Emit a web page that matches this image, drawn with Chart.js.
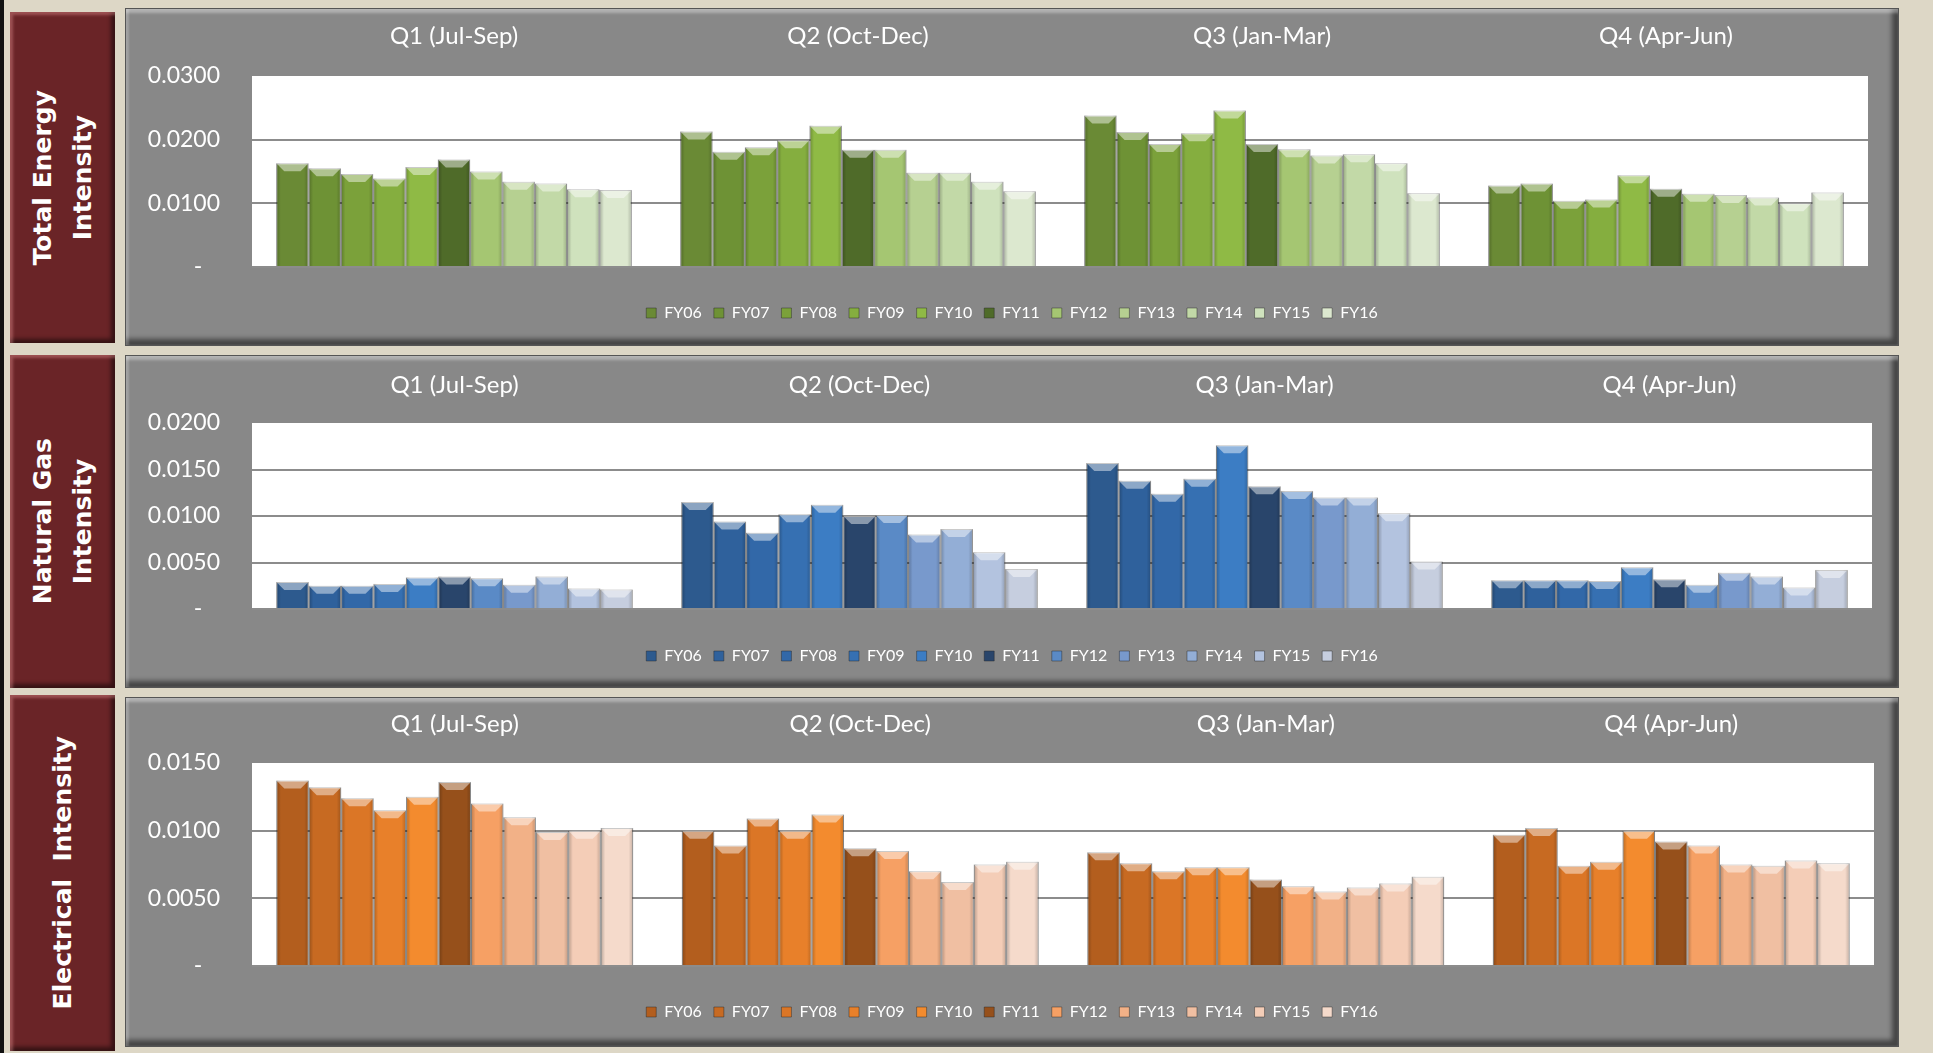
<!DOCTYPE html>
<html>
<head>
<meta charset="utf-8">
<script src="https://cdn.jsdelivr.net/npm/chart.js@4.4.1/dist/chart.umd.min.js"></script>
<style>
  html, body { margin: 0; padding: 0; }
  body { width: 1933px; height: 1053px; background: #ddd7c6; position: relative; overflow: hidden; border-left: 4px solid #111; box-sizing: border-box; }
  .side { position: absolute; left: 6px; width: 105px; background: #6a2427;
    box-shadow: inset 3px 3px 3px rgba(255,170,170,0.35), inset -4px -4px 4px rgba(0,0,0,0.5);
    display: flex; align-items: center; justify-content: center; }
  .side span { writing-mode: vertical-rl; transform: rotate(180deg); color: #fff; font: bold 25px "DejaVu Sans"; text-align: center; line-height: 40px; white-space: pre; }
  .panel { position: absolute; left: 121px; width: 1774px; background: #888;
    box-shadow: inset 0 5px 3px -1px rgba(255,255,255,0.35), inset 3px 0 2px rgba(255,255,255,0.2), inset -6px -6px 5px rgba(0,0,0,0.5);
    border: 1px solid #555; box-sizing: border-box; }
  .panel canvas { position: absolute; left: 0; top: 0; }
</style>
</head>
<body>
<div class="side" style="top:12px;height:331px"><span>Total Energy
Intensity</span></div>
<div class="side" style="top:355px;height:333px"><span>Natural Gas
Intensity</span></div>
<div class="side" style="top:695px;height:356px"><span>Electrical  Intensity</span></div>

<div class="panel" id="p1" style="top:8px;height:338px"><canvas id="c1"></canvas></div>
<div class="panel" id="p2" style="top:355px;height:333px"><canvas id="c2"></canvas></div>
<div class="panel" id="p3" style="top:697px;height:350px"><canvas id="c3"></canvas></div>

<script>
const quarters = ['Q1 (Jul-Sep)', 'Q2 (Oct-Dec)', 'Q3 (Jan-Mar)', 'Q4 (Apr-Jun)'];
const years = ['FY06', 'FY07', 'FY08', 'FY09', 'FY10', 'FY11', 'FY12', 'FY13', 'FY14', 'FY15', 'FY16'];

// one row per fiscal year, values for Q1..Q4
const totalEnergy = [
  [0.0163, 0.0213, 0.0238, 0.0128],
  [0.0155, 0.0181, 0.0212, 0.0131],
  [0.0146, 0.0188, 0.0193, 0.0104],
  [0.0139, 0.0199, 0.0210, 0.0106],
  [0.0157, 0.0222, 0.0246, 0.0144],
  [0.0169, 0.0184, 0.0193, 0.0123],
  [0.0150, 0.0184, 0.0185, 0.0115],
  [0.0134, 0.0148, 0.0175, 0.0113],
  [0.0131, 0.0148, 0.0177, 0.0109],
  [0.0122, 0.0134, 0.0163, 0.0100],
  [0.0121, 0.0119, 0.0116, 0.0117]
];
const naturalGas = [
  [0.0029, 0.0115, 0.0157, 0.0031],
  [0.0025, 0.0094, 0.0138, 0.0031],
  [0.0025, 0.0082, 0.0124, 0.0031],
  [0.0027, 0.0102, 0.0140, 0.0030],
  [0.0034, 0.0112, 0.0176, 0.0045],
  [0.0035, 0.0100, 0.0132, 0.0032],
  [0.0033, 0.0101, 0.0127, 0.0026],
  [0.0026, 0.0080, 0.0120, 0.0039],
  [0.0035, 0.0086, 0.0120, 0.0035],
  [0.0022, 0.0061, 0.0103, 0.0023],
  [0.0021, 0.0043, 0.0051, 0.0042]
];
const electrical = [
  [0.0137, 0.0100, 0.0084, 0.0097],
  [0.0132, 0.0089, 0.0076, 0.0102],
  [0.0124, 0.0109, 0.0070, 0.0074],
  [0.0115, 0.0100, 0.0073, 0.0077],
  [0.0125, 0.0112, 0.0073, 0.0100],
  [0.0136, 0.0087, 0.0064, 0.0092],
  [0.0120, 0.0085, 0.0059, 0.0089],
  [0.0110, 0.0070, 0.0055, 0.0075],
  [0.0099, 0.0062, 0.0058, 0.0074],
  [0.0100, 0.0075, 0.0061, 0.0078],
  [0.0102, 0.0077, 0.0066, 0.0076]
];

const greens = ['#6a8a35', '#6e9235', '#7ba13a', '#85ae3f', '#8fba45', '#4f6b29', '#a5c672', '#b6d091', '#c2d9a7', '#cfe2bd', '#dce8cf'];
const blues = ['#2d5a8e', '#2f619c', '#3268a8', '#3670b2', '#3c7dc4', '#29456b', '#5a8ac6', '#7899cc', '#93aed6', '#b3c3df', '#c6cedf'];
const oranges = ['#b35e1e', '#c76a22', '#db7626', '#e8802a', '#f38b2e', '#96501b', '#f6a064', '#f2b187', '#f0bfa2', '#f4cdb7', '#f5dacb'];

Chart.defaults.font.family = 'Lato';
Chart.defaults.color = '#fff';

// white plot area + bevelled bars
const bevel = {
  id: 'bevel',
  beforeDraw(chart) {
    const a = chart.chartArea, c = chart.ctx;
    c.save();
    c.fillStyle = '#fff';
    c.fillRect(a.left, a.top, a.right - a.left, a.bottom - a.top);
    c.restore();
  },
  afterDatasetsDraw(chart) {
    const c = chart.ctx;
    c.save();
    chart.data.datasets.forEach((ds, i) => {
      chart.getDatasetMeta(i).data.forEach(bar => {
        const p = bar.getProps(['x', 'y', 'base', 'width'], true);
        const l = p.x - p.width / 2, r = p.x + p.width / 2, h = p.base - p.y;
        const b = Math.min(8, h / 2);
        const g = c.createLinearGradient(l, 0, r, 0);
        g.addColorStop(0, 'rgba(0,0,0,0.25)');
        g.addColorStop(0.14, 'rgba(0,0,0,0)');
        g.addColorStop(0.86, 'rgba(0,0,0,0)');
        g.addColorStop(1, 'rgba(0,0,0,0.2)');
        c.fillStyle = g;
        c.fillRect(l, p.y, p.width, h);
        c.beginPath();
        c.moveTo(l, p.y); c.lineTo(r, p.y); c.lineTo(r - b, p.y + b); c.lineTo(l + b, p.y + b);
        c.closePath();
        c.fillStyle = 'rgba(255,255,255,0.45)';
        c.fill();
      });
    });
    c.restore();
  }
};

function makeChart(id, rows, colors, max, step, d) {
  return new Chart(document.getElementById(id), {
    type: 'bar',
    data: {
      labels: quarters,
      datasets: years.map((y, i) => ({
        label: y,
        data: rows[i],
        backgroundColor: colors[i],
        borderColor: 'rgba(40,40,40,0.45)',
        borderWidth: 1,
        categoryPercentage: 0.88,
        barPercentage: 1.0
      }))
    },
    options: {
      responsive: true,
      maintainAspectRatio: false,
      animation: false,
      layout: { padding: { left: 10, right: 10, top: 0, bottom: d.bottom } },
      plugins: {
        tooltip: { enabled: false },
        legend: {
          position: 'bottom',
          labels: { boxWidth: 10, boxHeight: 10, padding: 12, color: '#fff', font: { size: 16 } }
        }
      },
      scales: {
        x: {
          position: 'top',
          grid: { display: false },
          border: { display: false },
          ticks: { color: '#fff', font: { size: 24 }, padding: d.tpad, maxRotation: 0 },
          afterFit: s => { s.height = d.top; }
        },
        x2: {
          type: 'category',
          position: 'bottom',
          grid: { display: false },
          border: { display: false },
          ticks: { display: false },
          afterFit: s => { s.height = d.gap; }
        },
        y: {
          min: 0,
          max: max,
          grid: {
            color: c => (c.tick && c.tick.value >= max - 1e-9) ? 'rgba(0,0,0,0)' : '#8c8c8c',
            lineWidth: 2,
            drawTicks: false
          },
          border: { display: false },
          ticks: {
            stepSize: step,
            color: '#fff',
            font: { size: 23 },
            padding: 32,
            callback: v => v === 0 ? '-   ' : v.toFixed(4)
          },
          afterFit: s => { s.width = 116; }
        },
        yR: {
          type: 'linear',
          position: 'right',
          grid: { display: false },
          border: { display: false },
          ticks: { display: false },
          afterFit: s => { s.width = d.right - 10; }
        }
      }
    },
    plugins: [bevel]
  });
}

makeChart('c1', totalEnergy, greens, 0.03, 0.01, { right: 30, bottom: 14, top: 67, tpad: 17, gap: 26 });
makeChart('c2', naturalGas, blues, 0.02, 0.005, { right: 26, bottom: 13, top: 67, tpad: 15, gap: 27 });
makeChart('c3', electrical, oranges, 0.015, 0.005, { right: 24, bottom: 16, top: 65, tpad: 16, gap: 26 });
</script>
</body>
</html>
